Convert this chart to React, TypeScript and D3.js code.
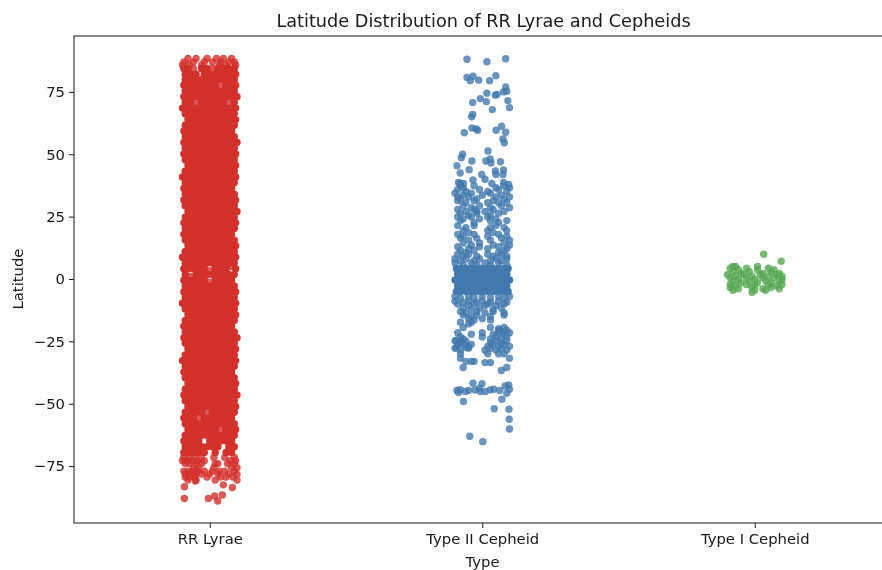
import React, { useEffect, useRef } from "react";
import { select, scaleLinear, scalePoint, axisLeft, axisBottom } from "d3";

const categories = ["RR Lyrae", "Type II Cepheid", "Type I Cepheid"];
const latTicks = [-75, -50, -25, 0, 25, 50, 75];
const colors = ["#d3302b", "#4279ae", "#56a852"];

// Each row is [latitude, ...jitter]. Jitter is in category units (about +-0.1).
// The solid bands hide single points, so these rows are estimates that fill them.
const rrLyraeCore = [
  [84.4, -.095, -.08, -.03, -.01, .03, .05, .07, .09],
  [82.1, -.09, -.07, -.05, -.02, 0, .02, .04, .06, .08, .095],
  [80, -.09, -.07, -.05, -.03, -.01, .01, .03, .05, .07, .09],
  [77.7, -.095, -.08, -.06, -.04, -.02, 0, .02, .06, .08, .095],
  [75.4, -.09, -.07, -.05, -.03, -.01, .01, .03, .05, .07, .09],
  [73.1, -.095, -.08, -.06, -.04, -.02, 0, .02, .04, .06, .08, .1],
  [70.8, -.09, -.07, -.03, -.01, .01, .03, .05, .09],
  [68.5, -.1, -.08, -.06, -.04, -.02, 0, .02, .04, .06, .08, .095],
  [66.2, -.09, -.07, -.05, -.03, -.01, .01, .03, .05, .07, .09],
  [63.9, -.08, -.06, -.04, -.02, 0, .02, .04, .06, .08, .095],
  [61.6, -.09, -.07, -.05, -.03, -.01, .01, .03, .05, .07, .09],
  [59.3, -.095, -.08, -.06, -.04, -.02, 0, .02, .04, .06, .08],
  [57, -.09, -.07, -.05, -.03, -.01, .01, .03, .05, .07, .09],
  [54.7, -.095, -.08, -.06, -.04, -.02, 0, .02, .04, .06, .08, .1],
  [52.4, -.09, -.07, -.05, -.03, -.01, .01, .03, .05, .07, .09],
  [50.1, -.095, -.08, -.06, -.04, -.02, 0, .02, .04, .06, .08, .095],
  [47.8, -.09, -.07, -.05, -.03, -.01, .01, .03, .05, .07, .09],
  [45.5, -.08, -.06, -.04, -.02, 0, .02, .04, .06, .08, .095],
  [43.2, -.09, -.07, -.05, -.03, -.01, .01, .03, .05, .07, .09],
  [40.9, -.1, -.08, -.06, -.04, -.02, 0, .02, .04, .06, .08, .095],
  [38.6, -.09, -.07, -.05, -.03, -.01, .01, .03, .05, .07, .09],
  [36.3, -.095, -.08, -.06, -.04, -.02, 0, .02, .04, .06, .08],
  [34, -.09, -.07, -.05, -.03, -.01, .01, .03, .05, .07, .09],
  [31.7, -.095, -.08, -.06, -.04, -.02, 0, .02, .04, .06, .08, .095],
  [29.4, -.09, -.07, -.05, -.03, -.01, .01, .03, .05, .07, .09],
  [27.1, -.08, -.06, -.04, -.02, 0, .02, .04, .06, .08, .1],
  [24.8, -.09, -.07, -.05, -.03, -.01, .01, .03, .05, .07, .09],
  [22.5, -.095, -.08, -.06, -.04, -.02, 0, .02, .04, .06, .08, .095],
  [20.2, -.09, -.07, -.05, -.03, -.01, .01, .03, .05, .07, .09],
  [17.9, -.095, -.08, -.06, -.04, -.02, 0, .02, .04, .06, .08],
  [15.6, -.09, -.07, -.05, -.03, -.01, .01, .03, .05, .07, .09],
  [13.3, -.08, -.06, -.04, -.02, 0, .02, .04, .06, .08, .095],
  [11, -.09, -.07, -.05, -.03, -.01, .01, .03, .05, .07, .09],
  [8.7, -.1, -.08, -.06, -.04, -.02, 0, .02, .04, .06, .08, .095],
  [6.4, -.09, -.07, -.05, -.03, -.01, .01, .03, .05, .07, .09],
  [4.1, -.095, -.08, -.06, -.04, -.02, .02, .04, .06, .095],
  [1.8, -.09, -.05, -.03, -.01, .01, .03, .05, .07, .09],
  [-.5, -.095, -.08, -.06, -.04, -.02, .02, .04, .06, .08],
  [-2.8, -.09, -.07, -.05, -.03, -.01, .01, .03, .05, .07, .09],
  [-5.1, -.095, -.08, -.06, -.04, -.02, 0, .02, .04, .06, .08, .095],
  [-7.4, -.09, -.07, -.05, -.03, -.01, .01, .03, .05, .07, .09],
  [-9.7, -.1, -.08, -.06, -.04, -.02, 0, .02, .04, .06, .08, .095],
  [-12, -.09, -.07, -.05, -.03, -.01, .01, .03, .05, .07, .09],
  [-14.3, -.08, -.06, -.04, -.02, 0, .02, .04, .06, .08, .095],
  [-16.6, -.09, -.07, -.05, -.03, -.01, .01, .03, .05, .07, .09],
  [-18.9, -.095, -.08, -.06, -.04, -.02, 0, .02, .04, .06, .08],
  [-21.2, -.09, -.07, -.05, -.03, -.01, .01, .03, .05, .07, .09],
  [-23.5, -.095, -.08, -.06, -.04, -.02, 0, .02, .04, .06, .08, .1],
  [-25.8, -.09, -.07, -.05, -.03, -.01, .01, .03, .05, .07, .09],
  [-28.1, -.08, -.06, -.04, -.02, 0, .02, .04, .06, .08, .095],
  [-30.4, -.09, -.07, -.05, -.03, -.01, .01, .03, .05, .07, .09],
  [-32.7, -.1, -.08, -.06, -.04, -.02, 0, .02, .04, .06, .08, .095],
  [-35, -.09, -.07, -.05, -.03, -.01, .01, .03, .05, .07, .09],
  [-37.3, -.095, -.08, -.06, -.04, -.02, 0, .02, .04, .06, .08],
  [-39.6, -.09, -.07, -.05, -.03, -.01, .01, .03, .05, .07, .09],
  [-41.9, -.08, -.06, -.04, -.02, 0, .02, .04, .06, .08, .095],
  [-44.2, -.09, -.07, -.05, -.03, -.01, .01, .03, .05, .07, .09],
  [-46.5, -.095, -.08, -.06, -.04, -.02, 0, .02, .04, .06, .08, .1],
  [-48.8, -.09, -.07, -.05, -.03, -.01, .01, .03, .05, .07, .09],
  [-51.1, -.08, -.06, -.04, -.02, 0, .02, .04, .06, .08, .095],
  [-53.4, -.09, -.07, -.05, -.03, .01, .03, .05, .07, .09],
  [-55.7, -.095, -.08, -.06, -.02, 0, .02, .04, .06, .08],
  [-58, -.09, -.07, -.05, -.03, -.01, .01, .03, .05, .07, .09],
  [-60.3, -.08, -.06, -.04, -.02, 0, .02, .06, .08, .095],
  [-62.6, -.09, -.07, -.05, -.03, -.01, .01, .03, .05, .07, .09],
  [-64.9, -.095, -.08, -.06, -.04, 0, .02, .04, .06, .08],
  [-67.2, -.09, -.07, -.05, -.03, -.01, .01, .03, .07, .09],
  [-69.5, -.095, -.08, -.06, -.04, -.02, .02, .06, .08],
];
const rrLyraeSparse = [
  [88.4, -.08, -.05, -.01, .025, .05, .08],
  [87, -.095, -.06, -.02, .01, .04, .07, .09],
  [85.8, -.1, -.075, -.03, .035, .06, .095],
  [84.4, -.06, .01],
  [77.7, .04],
  [70.8, -.05, .07],
  [5, .08],
  [3.3, 0],
  [-1.3, 0],
  [1, -.07],
  [-53.4, -.01],
  [-55.7, -.04],
  [-60.3, .04],
  [-71.5, -.095, -.075, -.055, -.03, .015, .055, .09],
  [-72.8, -.1, -.085, -.065, -.045, -.02, .075, .095],
  [-74, -.09, -.075, -.05, -.03, .02, .03, .065, .09],
  [-75.6, -.06, -.04, .015, .08, .1],
  [-77, -.095, -.08, -.065, -.045, -.02, .01, .035, .055, .09],
  [-78.2, -.09, -.07, -.05, -.03, 0, .03, .07, .1],
  [-79.4, -.09, -.075, -.055, -.01, .04, .06, .085],
  [-80.6, -.08, -.05, .02, .1],
  [-81, -.053],
  [-82.5, .05],
  [-83.3, -.093],
  [-83.6, .083],
  [-86.6, .046],
  [-87, .018],
  [-88, -.093, -.005],
  [-89, .029],
];

const typeTwoCore = [
  [4.2, -.095, -.08, -.06, -.04, -.02, 0, .02, .04, .06, .08, .095],
  [1.9, -.09, -.07, -.05, -.03, -.01, .01, .03, .05, .07, .09],
  [-.4, -.1, -.08, -.06, -.04, -.02, 0, .02, .04, .06, .08, .1],
  [-2.7, -.09, -.07, -.05, -.03, -.01, .01, .03, .05, .07, .09],
  [-5, -.095, -.08, -.06, -.04, -.02, 0, .02, .04, .06, .08, .095],
];
const typeTwoSparse = [
  [88.3, .086], [88.1, -.056], [87.1, .017],
  [81.5, .05], [81.3, -.034], [80.8, -.056], [79.7, -.013], [79.5, -.044, .027],
  [77, .086], [75.3, .09], [75, .078], [74.5, .017], [74, .054], [73.7, .048],
  [72.3, -.007], [71.5, .094], [71.1, .015], [70.7, -.035],
  [68.7, .1], [67.9, .037], [66, -.035], [65, -.039],
  [61.2, .071], [60.5, -.038], [60.1, -.022], [59.6, -.017, .051], [58.8, .086], [58.6, -.066],
  [56.1, .076], [54.6, .081], [51.3, .021],
  [50, -.072], [48.6, -.077], [48.1, .029], [47.3, -.038, .013], [47, .067], [46.5, .032], [45.4, -.093],
  [43.8, -.048], [43.7, .078], [43.3, .048], [42.5, -.081], [41.9, -.002, .05, .076],
  [40, .01], [39.7, -.034], [38.7, -.087, .078], [38.3, -.081, -.069, .035], [37.9, .097],
  [37.4, -.08, -.03, .08], [36.6, -.07, .05, .1],
  [35.9, -.09, -.01, .06], [35.1, -.06, .02, .09],
  [34.4, -.1, -.04, .03], [33.6, -.07, 0, .07],
  [32.9, -.09, -.05, .05, .1], [32.1, -.08, -.02, .08],
  [31.4, -.09, -.03, .04], [30.6, -.06, .02, .06, .09],
  [29.4, -.07, -.01, .07], [28.6, -.04, .03, .1],
  [27.9, -.09, -.03, .04], [27.1, -.06, -.02, .01, .08],
  [26.4, -.08, -.02, .06], [25.6, -.05, .03],
  [24.9, -.09, -.04, .02], [24.1, -.07, -.01, .05],
  [23.4, -.08, .03, .09], [22.6, -.03, .06],
  [21.4, -.09, -.03, .05], [20.6, -.06, .03, .08],
  [19.4, -.07, .02, .09], [18.6, -.05, .04],
  [17.9, -.09, -.03, .06], [17.1, -.07, .02, .09],
  [16.4, -.08, -.02, .07], [15.6, -.05, .03, .1],
  [14.4, -.07, -.01, .08], [13.6, -.04, .04, .1],
  [12.9, -.09, -.01, .06], [12.1, -.05, .02, .09],
  [11.4, -.08, -.03, .08], [10.6, -.06, .06],
  [9.9, -.09, -.05, .02, .07], [9.1, -.07, -.02, .04, .09],
  [8.1, -.1, -.06, -.01, .05, .09], [7.3, -.08, -.03, .03, .07],
  [6.4, -.1, -.04, .01, .06], [5.6, -.07, -.02, .03, .09],
  [-7, -.1, -.05, 0, .06, .1], [-7.6, -.08, -.03, .03, .08],
  [-8.9, -.1, -.05, 0, .06], [-9.3, -.07, -.02, .03, .09],
  [-10, -.09, -.03, .02, .08], [-10.6, -.05, .01, .05],
  [-11.6, -.07, -.01, .07], [-12.2, -.04, .04],
  [-13, -.08, -.02, .04], [-13.5, -.06, .01, .08],
  [-14.4, -.07, -.02, .08], [-15, -.04, .03],
  [-15.9, -.05, 0], [-16.4, -.03, .03],
  [-17.3, -.08, -.04], [-18, -.05],
  [-19.4, -.07, .03, .08], [-19.9, .06],
  [-20.5, .06, .09], [-21, .08],
  [-21.5, -.09, 0, .06, .1], [-22.1, -.04, .04, .08],
  [-23.2, -.08, 0, .05, .09], [-24, -.07, .03, .07],
  [-24.5, -.095, -.075], [-26, -.085, -.065], [-27.5, -.095, -.06],
  [-24.8, -.1, -.06, .05, .09], [-25.5, -.08, .03, .07],
  [-26.2, -.09, -.04, .04, .08], [-27, -.05, .02, .06, .1],
  [-27.8, -.1, -.05, .03, .07], [-28.5, -.08, .01, .05, .09],
  [-30, -.08, .02, .06, .08],
  [-31.8, -.08, .1],
  [-33, -.06, -.04, -.03],
  [-33.5, .01, .03],
  [-35.5, -.07, .09],
  [-36.7, .07],
  [-41.8, -.034], [-42, -.001], [-42.5, .097], [-42.9, .084], [-43.8, -.01],
  [-44.2, .042, .1], [-44.4, -.081], [-44.5, -.026, .029], [-44.7, -.093, -.05, .064],
  [-45.1, -.062, -.007, .011], [-45.5, -.087], [-45.8, .09],
  [-48.2, .072], [-49.1, -.069], [-52, .044], [-52.2, .098], [-56.2, .099], [-60.1, .1],
  [-63, -.046], [-65.2, .002],
];

const typeOneSparse = [
  [9.9, .033],
  [7.1, .097],
  [5, -.08, -.07, .01],
  [4.3, -.09, -.03, .05],
  [3.7, -.06, .01, .07],
  [2.9, -.08, -.02, .06],
  [2.2, -.05, .03, .09],
  [1.7, -.1, -.04, .02, .08],
  [1.1, -.07, -.01, .05, .1],
  [.5, -.09, -.03, .03, .07],
  [-.2, -.06, 0, .1],
  [-.8, -.08, -.02, .04, .09],
  [-1.5, -.05, .01, .06],
  [-2.2, -.09, -.03, .05, .1],
  [-2.7, -.07, 0, .08],
  [-3.4, -.09, -.01, .06],
  [-3.9, -.06, .03, .09],
  [-4.5, -.08, 0, .04],
  [-5.3, -.01],
];

const margin = { left: 74, top: 36, bottom: 523, right: 891 };

// flatten [lat, ...jitter] rows into single points
function toPoints(rows: number[][], category: number) {
  return rows.flatMap(([lat, ...jitters]) =>
    jitters.map((jitter) => ({ category, lat, jitter }))
  );
}

export default function App() {
  const svgRef = useRef<SVGSVGElement>(null);

  useEffect(() => {
    const svg = select(svgRef.current).select("#chart");
    svg.selectAll("*").remove();

    const xScale = scalePoint()
      .domain(categories)
      .range([margin.left - 0.5, margin.right])
      .padding(0.5);
    const yScale = scaleLinear()
      .domain([-97.8, 97.4])
      .range([margin.bottom, margin.top]);

    // the overlap in the solid bands builds up to full colour
    const layers = [
      { points: toPoints(rrLyraeCore, 0), opacity: 1 },
      { points: toPoints(rrLyraeSparse, 0), opacity: 0.8 },
      { points: toPoints(typeTwoSparse, 1), opacity: 0.8 },
      { points: toPoints(typeTwoCore, 1), opacity: 1 },
      { points: toPoints(typeOneSparse, 2), opacity: 0.8 },
    ];

    layers.forEach(({ points, opacity }) => {
      svg
        .append("g")
        .selectAll("circle")
        .data(points)
        .join("circle")
        .attr("cx", (d) => xScale(categories[d.category]) + d.jitter * xScale.step())
        .attr("cy", (d) => yScale(d.lat))
        .attr("r", 3.7)
        .attr("fill", (d) => colors[d.category])
        .attr("fill-opacity", opacity);
    });

    const xAxis = svg
      .append("g")
      .attr("transform", `translate(0, ${margin.bottom})`)
      .call(axisBottom(xScale).tickSize(5).tickPadding(5));
    const yAxis = svg
      .append("g")
      .attr("transform", `translate(${margin.left}, 0)`)
      .call(axisLeft(yScale).tickValues(latTicks).tickSize(5).tickPadding(4));

    [xAxis, yAxis].forEach((axis) => {
      axis.attr("font-family", "DejaVu Sans");
      axis.select(".domain").remove();
    });
    svg.selectAll(".tick text").attr("font-size", 14.8).attr("fill", "#1a1a1a");
    svg.selectAll(".tick line").attr("stroke", "#1a1a1a");

    svg
      .append("rect")
      .attr("x", margin.left)
      .attr("y", margin.top)
      .attr("width", margin.right - margin.left)
      .attr("height", margin.bottom - margin.top)
      .attr("fill", "none")
      .attr("stroke", "#1a1a1a");
  }, []);

  return (
    <svg
      ref={svgRef}
      width={882}
      height={570}
      fontFamily="DejaVu Sans"
      style={{ position: "absolute", left: 0, top: 0 }}
    >
      <defs>
        <filter id="soft" x="0" y="0" width="100%" height="100%">
          <feGaussianBlur stdDeviation="0.45" />
        </filter>
      </defs>
      <g filter="url(#soft)">
        <g id="chart" />
        <text x={483.5} y={27} textAnchor="middle" fontSize={17.7} fill="#1a1a1a">
          Latitude Distribution of RR Lyrae and Cepheids
        </text>
        <text x={482.5} y={567} textAnchor="middle" fontSize={14.8} fill="#1a1a1a">
          Type
        </text>
        <text
          transform="translate(23, 279) rotate(-90)"
          textAnchor="middle"
          fontSize={14.8}
          fill="#1a1a1a"
        >
          Latitude
        </text>
      </g>
    </svg>
  );
}
